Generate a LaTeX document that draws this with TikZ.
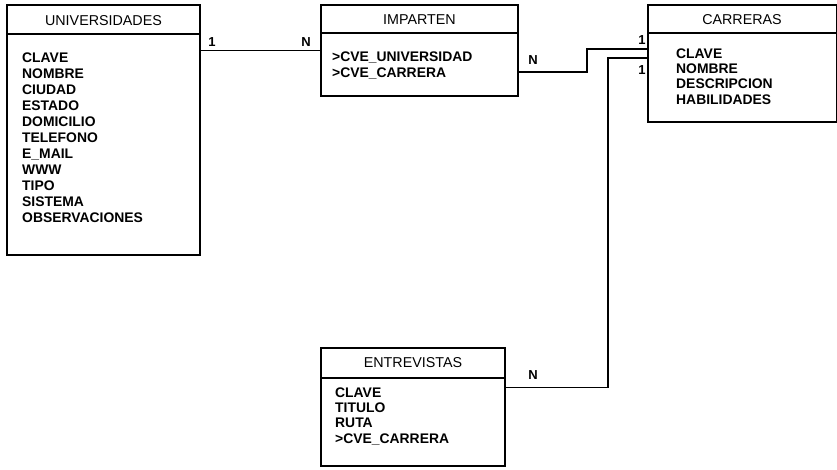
\documentclass[tikz,border=0pt]{standalone}
\usepackage{fontspec}
\setmainfont{Liberation Sans}
\begin{document}
\begin{tikzpicture}[x=1pt,y=-1pt,
  tbl/.style={draw=black,line width=1.6pt,anchor=north west,inner sep=0pt,outer sep=0pt},
  hline/.style={line width=1.6pt},
  ttl/.style={font=\fontsize{14.3}{15}\selectfont,inner sep=0pt},
  attr/.style={font=\fontsize{13.9}{15.2}\selectfont\bfseries,align=left,anchor=north west,inner sep=0pt},
  card/.style={font=\fontsize{13}{14}\selectfont\bfseries,inner sep=0pt},
  rel/.style={line width=1.9pt}]
\useasboundingbox (0,0) rectangle (837,469);
% UNIVERSIDADES
\node[tbl,minimum width=193pt,minimum height=250pt] (univ) at (7,5) {};
\draw[hline] (7,34) -- (200,34);
\node[ttl] (univt) at (103.5,21) {UNIVERSIDADES};
\node[attr,font=\fontsize{13.9}{16}\selectfont\bfseries] (univa) at (22,53) {CLAVE\\NOMBRE\\CIUDAD\\ESTADO\\DOMICILIO\\TELEFONO\\E\_MAIL\\WWW\\TIPO\\SISTEMA\\OBSERVACIONES};
% IMPARTEN
\node[tbl,minimum width=197pt,minimum height=91pt] (imp) at (321,5) {};
\draw[hline] (321,33) -- (518,33);
\node[ttl] (impt) at (419.5,20) {IMPARTEN};
\node[attr] (impa) at (332,52) {>CVE\_UNIVERSIDAD\\>CVE\_CARRERA};
% CARRERAS
\node[tbl,minimum width=189pt,minimum height=117pt] (carr) at (648,5) {};
\draw[hline] (648,33) -- (837,33);
\node[ttl] (carrt) at (742,20) {CARRERAS};
\node[attr] (carra) at (676,48.5) {CLAVE\\NOMBRE\\DESCRIPCION\\HABILIDADES};
% ENTREVISTAS
\node[tbl,minimum width=184pt,minimum height=118pt] (entr) at (321,348) {};
\draw[hline] (321,378) -- (505,378);
\node[ttl] (entrt) at (413,363) {ENTREVISTAS};
\node[attr] (entra) at (335,387.5) {CLAVE\\TITULO\\RUTA\\>CVE\_CARRERA};
% connectors
\draw[rel] (univ.east |- imp.west) -- (imp.west);
\draw[rel] ([yshift=-21.5pt]imp.east) -- ++(69,0) |- ([yshift=14.5pt]carr.west);
\draw[rel] ([yshift=5.5pt]carr.west) -- ++(-40,0) |- ([yshift=19.5pt]entr.east);
% cardinalities
\node[card] (c1) at (212,42) {1};
\node[card] (c2) at (306,42) {N};
\node[card] (c3) at (533,60) {N};
\node[card] (c4) at (642,40) {1};
\node[card] (c5) at (642,70) {1};
\node[card] (c6) at (533,375) {N};
\end{tikzpicture}
\end{document}
